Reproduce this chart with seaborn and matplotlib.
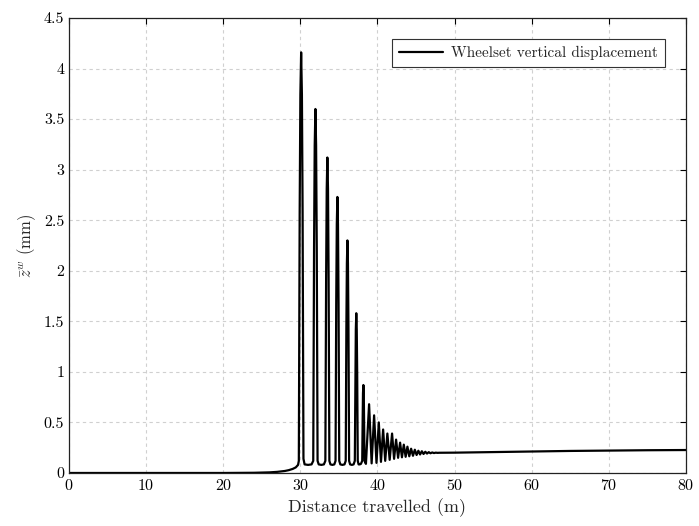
import seaborn as sns
import pandas as pd
import matplotlib.pyplot as plt
import numpy as np

# wheelset vertical displacement, per section
# approach (no contact loss yet)
approach_x = [0, 10, 20, 24, 26, 27, 28, 28.5, 29.0, 29.4, 29.7]
approach_z = [0, 0, 0, 0.002, 0.006, 0.011, 0.02, 0.028, 0.04, 0.055, 0.08]

# big bounces: roughly parabolic flight, then U shaped trough
bounce_x = [29.80, 29.84, 29.91, 30.00, 30.10, 30.20, 30.29, 30.36, 30.40,
            30.55, 31.00, 31.45,
            31.67, 31.705, 31.775, 31.86, 31.95, 32.04, 32.125, 32.195, 32.23,
            32.38, 32.72, 33.05,
            33.24, 33.274, 33.339, 33.417, 33.50, 33.583, 33.661, 33.726, 33.76,
            33.90, 34.15, 34.40,
            34.56, 34.59, 34.65, 34.723, 34.80, 34.877, 34.95, 35.01, 35.04,
            35.18, 35.45, 35.72,
            35.88, 35.91, 35.964, 36.03, 36.10, 36.17, 36.236, 36.29, 36.32,
            36.45, 36.68, 36.90,
            37.06, 37.085, 37.132, 37.19, 37.25, 37.31, 37.368, 37.415, 37.44,
            37.55, 37.70, 37.85,
            38.02, 38.04, 38.08, 38.12, 38.17, 38.22, 38.26, 38.30, 38.32,
            38.50]
bounce_z = [0.12, 1.04, 2.58, 3.74, 4.16, 3.74, 2.58, 1.04, 0.14,
            0.085, 0.08, 0.085,
            0.12, 0.90, 2.23, 3.24, 3.60, 3.24, 2.23, 0.90, 0.12,
            0.085, 0.08, 0.085,
            0.12, 0.78, 1.93, 2.81, 3.12, 2.81, 1.93, 0.78, 0.12,
            0.085, 0.08, 0.085,
            0.12, 0.68, 1.69, 2.46, 2.73, 2.46, 1.69, 0.68, 0.12,
            0.085, 0.08, 0.085,
            0.12, 0.58, 1.43, 2.07, 2.30, 2.07, 1.43, 0.58, 0.12,
            0.085, 0.08, 0.085,
            0.12, 0.40, 0.98, 1.42, 1.58, 1.42, 0.98, 0.40, 0.12,
            0.085, 0.085, 0.09,
            0.12, 0.30, 0.55, 0.79, 0.87, 0.79, 0.55, 0.30, 0.12,
            0.09]

# decaying oscillation
tail_x = [38.91, 39.24, 39.56, 39.87, 40.17, 40.45, 40.73, 41.00, 41.28, 41.58,
          41.89, 42.15, 42.41, 42.67, 42.93, 43.17, 43.41, 43.65, 43.88, 44.12,
          44.36, 44.60, 44.84, 45.07, 45.30, 45.52, 45.75, 45.97, 46.20, 46.42,
          46.65, 46.87, 47.10, 47.32, 47.55, 47.80, 48.00]
tail_z = [0.68, 0.095, 0.57, 0.10, 0.50, 0.11, 0.43, 0.12, 0.39, 0.13,
          0.39, 0.14, 0.33, 0.15, 0.30, 0.155, 0.28, 0.16, 0.26, 0.165,
          0.24, 0.17, 0.23, 0.178, 0.22, 0.183, 0.215, 0.188, 0.21, 0.192,
          0.206, 0.195, 0.203, 0.197, 0.201, 0.199, 0.20]

# settled
settle_x = [50, 55, 60, 65, 70, 75, 80]
settle_z = [0.201, 0.207, 0.213, 0.218, 0.222, 0.225, 0.227]

df = pd.DataFrame({
    'x': approach_x + bounce_x + tail_x + settle_x,
    'z': approach_z + bounce_z + tail_z + settle_z,
})

sns.set_style('white')
plt.rcParams['font.family'] = ['cmr10', 'DejaVu Serif']
plt.rcParams['mathtext.fontset'] = 'cm'
plt.rcParams['axes.formatter.use_mathtext'] = True

fig = plt.figure(figsize=(6.99, 5.26), dpi=100)
ax = fig.add_axes([0.0987, 0.1008, 0.8827, 0.865])

sns.lineplot(data=df, x='x', y='z', sort=False, color='black', linewidth=1.6,
             label='Wheelset vertical displacement', ax=ax)

ax.set_xlim(0, 80)
ax.set_ylim(0, 4.5)
ax.set_xticks(np.arange(0, 81, 10))
ax.set_yticks(np.arange(0, 4.51, 0.5))
ax.set_yticklabels(['0', '0.5', '1', '1.5', '2', '2.5', '3', '3.5', '4', '4.5'])
ax.grid(True, color='#d0d0d0', linestyle=(0, (3, 3)), linewidth=0.8)
ax.tick_params(direction='in', top=True, right=True, length=4, width=0.8,
               labelsize=11.5, colors='black')
for s in ax.spines.values():
    s.set_color('#222222')
    s.set_linewidth(0.9)

ax.set_xlabel('Distance travelled (m)', fontsize=13)
ax.set_ylabel(r'$\bar{z}^w$ (mm)', fontsize=12)

leg = ax.legend(loc='upper right', fontsize=11, frameon=True, fancybox=False,
                handlelength=2.9, handletextpad=0.5, borderpad=0.45,
                borderaxespad=1.4, framealpha=1)
leg.get_frame().set_edgecolor('#333333')
leg.get_frame().set_linewidth(0.8)

fig.savefig('out.png', dpi=100)
